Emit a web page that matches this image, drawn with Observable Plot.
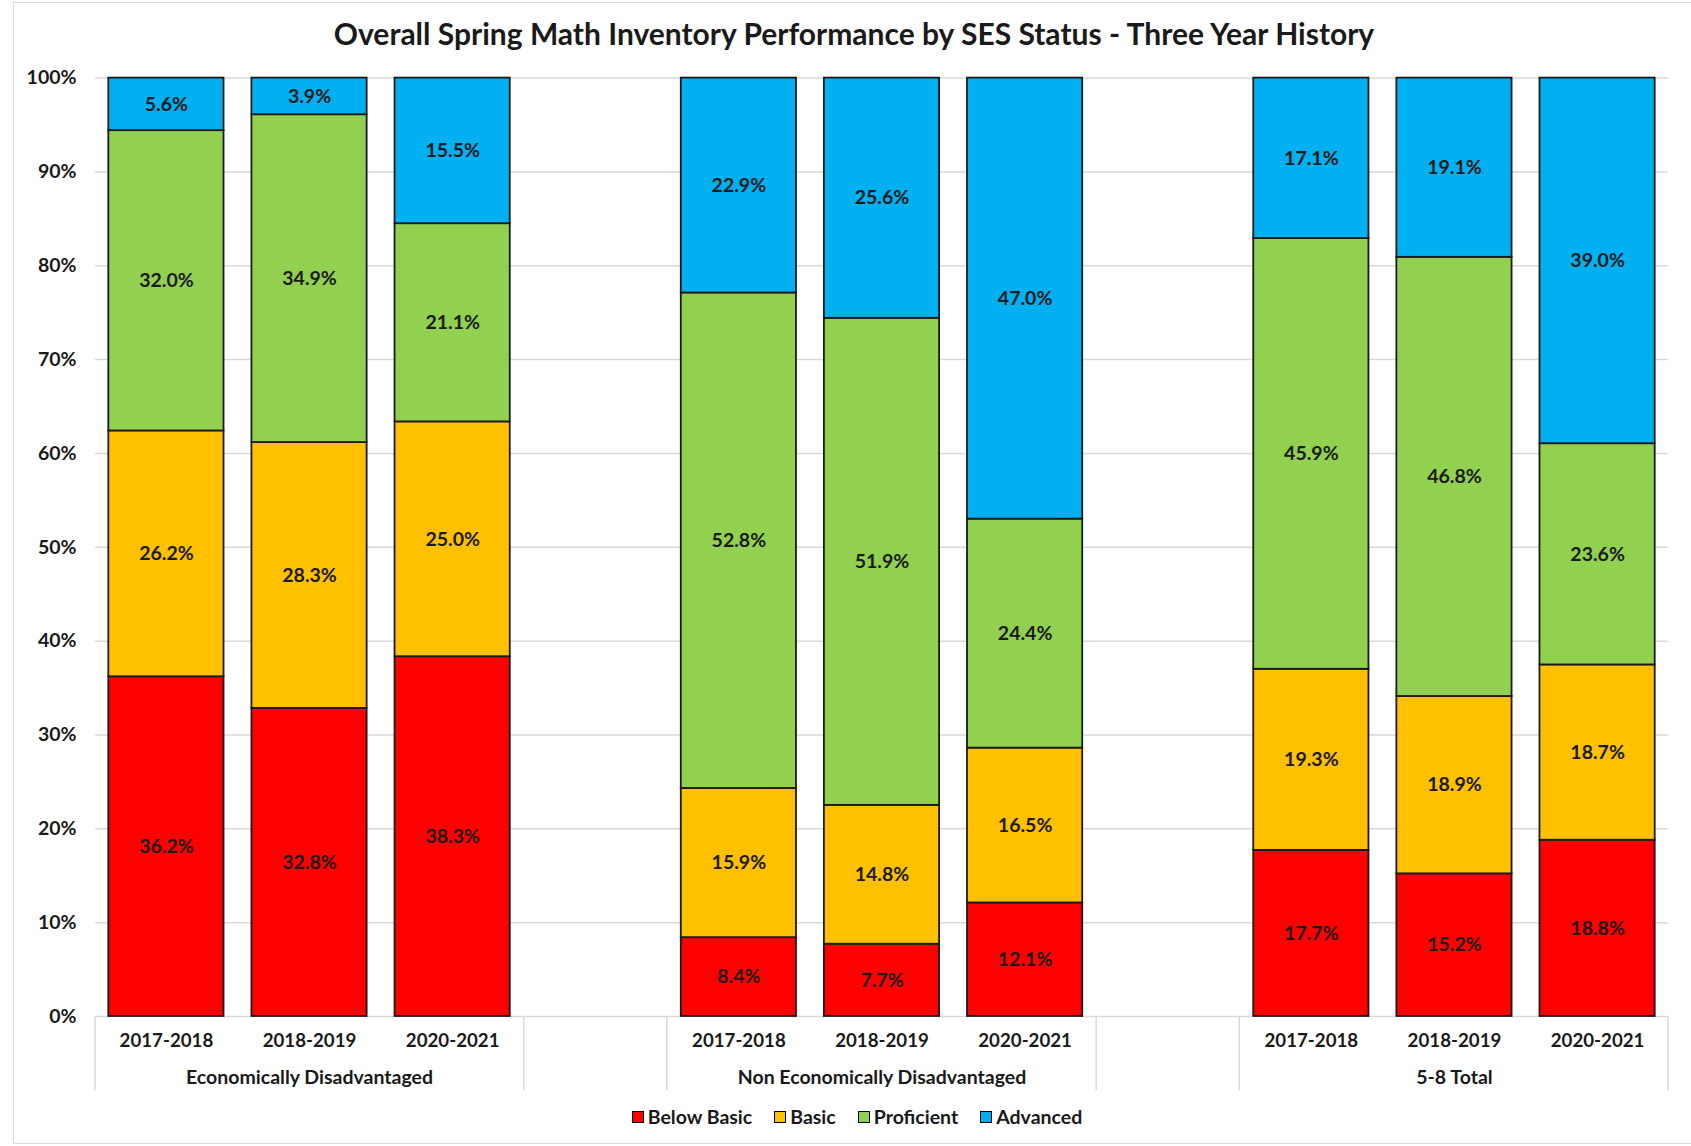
<!DOCTYPE html>
<html>
<head>
<meta charset="utf-8">
<script src="https://cdn.jsdelivr.net/npm/d3@7"></script>
<script src="https://cdn.jsdelivr.net/npm/@observablehq/plot@0.6"></script>
<style>
  body { margin: 0; background: #fff; font-family: Lato, "Open Sans", sans-serif; }
  #wrap { position: relative; width: 1691px; height: 1146px; overflow: hidden; }
  #frame { position: absolute; left: 13px; top: 2px; width: 1700px; height: 1142px; border: 1px solid #d9d9d9; box-sizing: border-box; }
  #title { position: absolute; top: 15px; left: 0; width: 1708px; text-align: center; font-size: 30px; font-weight: bold; color: #1a1a1a; white-space: nowrap; }
  #chart { position: absolute; top: 60px; left: 0; }
  #legend { position: absolute; top: 1105px; left: 0; width: 1714px; display: flex; justify-content: center; gap: 22px; font-size: 19.5px; font-weight: bold; color: #1a1a1a; }
  .item { display: flex; align-items: center; gap: 4px; }
  .sw { width: 12px; height: 12px; border: 1.5px solid #000; box-sizing: border-box; }
</style>
</head>
<body>
<div id="wrap">
  <div id="frame"></div>
  <div id="title">Overall Spring Math Inventory Performance by SES Status - Three Year History</div>
  <div id="chart"></div>
  <div id="legend"></div>
</div>
<script>
const groups = ["Economically Disadvantaged", "Non Economically Disadvantaged", "5-8 Total"];
const years = ["2017-2018", "2018-2019", "2020-2021"];
const levels = ["Below Basic", "Basic", "Proficient", "Advanced"];
const colors = ["#FF0000", "#FFC000", "#92D050", "#00B0F0"];
// values per bar, order: group1 years, group2 years, group3 years
const belowBasic = [36.2, 32.8, 38.3, 8.4, 7.7, 12.1, 17.7, 15.2, 18.8];
const basic      = [26.2, 28.3, 25.0, 15.9, 14.8, 16.5, 19.3, 18.9, 18.7];
const proficient = [32.0, 34.9, 21.1, 52.8, 51.9, 24.4, 45.9, 46.8, 23.6];
const advanced   = [5.6, 3.9, 15.5, 22.9, 25.6, 47.0, 17.1, 19.1, 39.0];
const series = [belowBasic, basic, proficient, advanced];

// slots: 3 bars per group, a blank slot between groups
const slots = [];
groups.forEach((g, gi) => {
  years.forEach(y => slots.push(g + "|" + y));
  if (gi < groups.length - 1) slots.push("gap" + gi);
});

const rows = [];
groups.forEach((g, gi) => years.forEach((y, yi) => {
  const i = gi * 3 + yi;
  levels.forEach((l, li) => rows.push({slot: g + "|" + y, group: g, year: y, level: l, value: series[li][i]}));
}));
const yearRows = [];
groups.forEach(g => years.forEach(y => yearRows.push({slot: g + "|" + y, year: y})));
const groupRows = groups.map(g => ({slot: g + "|" + years[1], group: g}));

const PI = 0.195, PO = 0.093;
const dividerBefore = groups.map(g => g + "|" + years[0]);
const dividerAfter = groups.map(g => g + "|" + years[2]);

const dividers = (index, scales, values, dimensions) => {
  const x = scales.x;
  const step = x(slots[1]) - x(slots[0]);
  const half = PI / 2 * step;
  const y0 = dimensions.height - dimensions.marginBottom;
  const bw = step * (1 - PI);
  const g = d3.create("svg:g");
  const xs = [
    ...dividerBefore.map((s, i) => i === 0 ? dimensions.marginLeft : x(s) - half),
    ...dividerAfter.map((s, i) => i === dividerAfter.length - 1 ? dimensions.width - dimensions.marginRight : x(s) + bw + half)
  ];
  xs.forEach(px => g.append("line")
    .attr("x1", px).attr("x2", px).attr("y1", y0).attr("y2", y0 + 74)
    .attr("stroke", "#d9d9d9").attr("stroke-width", 1.5));
  return g.node();
};

const plot = Plot.plot({
  width: 1691,
  height: 1035,
  marginTop: 17.6,
  marginBottom: 79,
  marginLeft: 95,
  marginRight: 23,
  style: {fontFamily: "Lato, 'Open Sans', sans-serif", fontWeight: "bold", fontSize: "19px", color: "#1a1a1a", background: "transparent"},
  x: {domain: slots, paddingInner: PI, paddingOuter: PO, round: false, axis: null},
  y: {domain: [0, 1], axis: null},
  color: {domain: levels, range: colors},
  marks: [
    Plot.gridY(d3.range(0, 1.001, 0.1), {stroke: "#d9d9d9", strokeOpacity: 1, strokeWidth: 1.5}),
    Plot.axisY(d3.range(0, 1.001, 0.1), {tickSize: 0, tickPadding: 19, tickFormat: d => Math.round(d * 100) + "%", label: null, fontSize: 19.5}),
    Plot.barY(rows, Plot.stackY({x: "slot", y: "value", fill: "level", order: levels, offset: "normalize", stroke: "#1a1a1a", strokeWidth: 1.8})),
    Plot.text(rows, Plot.stackY({x: "slot", y: "value", z: "level", order: levels, offset: "normalize", text: d => d.value.toFixed(1) + "%", fill: "#1a1a1a", fontSize: 19.5})),
    Plot.text(yearRows, {x: "slot", y: 0, dy: 25, text: "year", fill: "#1a1a1a", fontSize: 18.7}),
    Plot.text(groupRows, {x: "slot", y: 0, dy: 61, text: "group", fill: "#1a1a1a", fontSize: 19.5}),
    dividers
  ]
});
document.getElementById("chart").appendChild(plot);

const legend = document.getElementById("legend");
levels.forEach((l, i) => {
  const it = document.createElement("div");
  it.className = "item";
  const sw = document.createElement("div");
  sw.className = "sw";
  sw.style.background = colors[i];
  const t = document.createElement("span");
  t.textContent = l;
  it.appendChild(sw); it.appendChild(t);
  legend.appendChild(it);
});
</script>
</body>
</html>
